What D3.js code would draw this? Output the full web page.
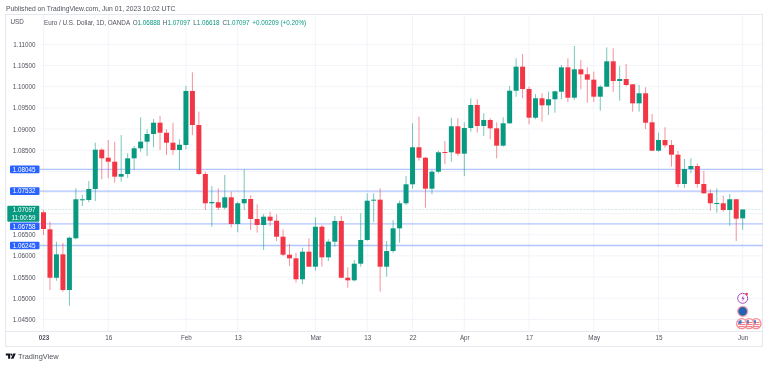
<!DOCTYPE html>
<html><head><meta charset="utf-8">
<script src="https://cdn.jsdelivr.net/npm/d3@7/dist/d3.min.js"></script>
<style>html,body{margin:0;padding:0;background:#fff}svg{display:block;filter:blur(.25px)}text{font-family:"Liberation Sans",Arial,sans-serif}</style>
</head><body><svg id="c" width="768" height="365"></svg>
<script>
const opens=[1.07031,1.06629,1.05484,1.06037,1.05194,1.06416,1.07322,1.07322,1.07582,1.08511,1.08321,1.08227,1.07873,1.07936,1.08307,1.08544,1.08700,1.08882,1.09149,1.08912,1.08676,1.08504,1.08622,1.09899,1.09095,1.07936,1.07244,1.07268,1.07140,1.07385,1.06754,1.07244,1.07345,1.06873,1.06731,1.06927,1.06832,1.06454,1.06028,1.05943,1.05447,1.06099,1.05745,1.06690,1.05966,1.06336,1.06826,1.05484,1.05423,1.05816,1.06376,1.07305,1.07329,1.05745,1.06115,1.06652,1.07244,1.07693,1.08568,1.08321,1.07589,1.07991,1.08456,1.08449,1.09064,1.08417,1.09024,1.09568,1.09071,1.09213,1.09016,1.08606,1.09135,1.09905,1.10473,1.09945,1.09267,1.09726,1.09560,1.09703,1.09882,1.10458,1.09740,1.10411,1.10293,1.10166,1.09764,1.10001,1.10600,1.10135,1.10182,1.10056,1.09607,1.09844,1.09158,1.08487,1.08740,1.08622,1.08393,1.07700,1.08054,1.08125,1.07700,1.07480,1.07235,1.07244,1.07085,1.07339,1.06888];
const highs=[1.07085,1.06809,1.06336,1.06305,1.06454,1.07598,1.07440,1.07770,1.08676,1.08544,1.08740,1.08700,1.08858,1.08426,1.08598,1.09277,1.08993,1.09237,1.09308,1.08993,1.09149,1.08757,1.10017,1.10340,1.09409,1.07991,1.07652,1.07598,1.07912,1.07518,1.07282,1.08047,1.07440,1.07220,1.06991,1.07045,1.06984,1.06629,1.06281,1.06075,1.06193,1.06416,1.06913,1.06731,1.06393,1.06944,1.06944,1.05730,1.05903,1.07007,1.07480,1.07480,1.07598,1.06352,1.06849,1.07305,1.07889,1.09135,1.09291,1.08340,1.08031,1.08487,1.08716,1.09267,1.09253,1.09158,1.09726,1.09703,1.09372,1.09253,1.09158,1.09277,1.10017,1.10671,1.10773,1.10001,1.09827,1.09844,1.09882,1.09905,1.10513,1.10671,1.10962,1.10631,1.10458,1.10355,1.10040,1.10931,1.10908,1.10489,1.10537,1.10064,1.10040,1.09986,1.09355,1.08912,1.09040,1.08740,1.08480,1.08291,1.08307,1.08189,1.08007,1.07575,1.07598,1.07423,1.07464,1.07345,1.07097];
const lows=[1.06494,1.05194,1.05413,1.05154,1.04822,1.06393,1.07180,1.07268,1.07298,1.07811,1.07841,1.07730,1.07754,1.07841,1.08031,1.08464,1.08362,1.08568,1.08504,1.08386,1.08386,1.08031,1.08520,1.08858,1.07912,1.07085,1.06690,1.07085,1.07102,1.06676,1.06558,1.07085,1.06612,1.06549,1.06139,1.06707,1.06352,1.05997,1.05761,1.05367,1.05336,1.05738,1.05650,1.05745,1.05879,1.06217,1.05470,1.05248,1.05399,1.05745,1.06359,1.06795,1.05154,1.05508,1.06075,1.06312,1.07203,1.07589,1.08250,1.07140,1.07456,1.07952,1.08173,1.08227,1.08362,1.07889,1.08936,1.08912,1.08835,1.08757,1.08307,1.08582,1.09118,1.09764,1.09726,1.09111,1.09230,1.09173,1.09331,1.09385,1.09703,1.09639,1.09686,1.09939,1.09622,1.09639,1.09433,1.09993,1.09875,1.09670,1.10017,1.09409,1.09409,1.09000,1.08480,1.08464,1.08558,1.08109,1.07622,1.07605,1.07952,1.07613,1.07464,1.07068,1.07021,1.07045,1.06714,1.06352,1.06618];
const closes=[1.06636,1.05484,1.06037,1.05194,1.06430,1.07339,1.07339,1.07582,1.08511,1.08307,1.08227,1.07873,1.07936,1.08307,1.08544,1.08700,1.08882,1.09149,1.08912,1.08676,1.08504,1.08629,1.09899,1.09095,1.07936,1.07244,1.07275,1.07140,1.07385,1.06754,1.07244,1.07345,1.06873,1.06731,1.06927,1.06832,1.06454,1.06028,1.05943,1.05447,1.06099,1.05745,1.06690,1.05966,1.06336,1.06826,1.05484,1.05423,1.05816,1.06376,1.07305,1.07329,1.05745,1.06115,1.06652,1.07244,1.07693,1.08568,1.08321,1.07589,1.07991,1.08449,1.08440,1.09064,1.08417,1.09024,1.09568,1.09071,1.09213,1.09016,1.08606,1.09135,1.09905,1.10473,1.09945,1.09267,1.09726,1.09560,1.09703,1.09891,1.10458,1.09740,1.10411,1.10293,1.10166,1.09764,1.10001,1.10600,1.10135,1.10182,1.10040,1.09607,1.09844,1.09149,1.08487,1.08740,1.08615,1.08393,1.07700,1.08054,1.08125,1.07700,1.07480,1.07244,1.07251,1.07085,1.07339,1.06880,1.07097];
const gridTicks=[1.11,1.105,1.10,1.095,1.09,1.085,1.08,1.075,1.07,1.065,1.06,1.055,1.05,1.045];
const priceTicks=[1.11,1.105,1.10,1.095,1.09,1.085,1.065,1.06,1.055,1.05,1.045];
const timeIndex=[0,10,22,30,42,50,57,65,75,85,95,108];
const timeLabels=["023","16","Feb","13","Mar","13","22","Apr","17","May","15","Jun"];
const levels=[1.08045,1.07532,1.06758,1.06245];
const lastClose=1.07097;
const countdown="11:00:59";
const legendParts=[["Euro / U.S. Dollar, 1D, OANDA","#50535e"],["O","#50535e"],["1.06888","#089981"],["H","#50535e"],["1.07097","#089981"],["L","#50535e"],["1.06618","#089981"],["C","#50535e"],["1.07097","#089981"],["+0.00209 (+0.20%)","#089981"]];
const legendX=[44,132.8,137.4,162.8,167.4,193.3,196.8,222.6,226.8,252.3];

const UP="#089981",DOWN="#F23645",BLUE="#2962FF",GRID="#f2f4f9",FRAME="#e0e3eb",TXT="#50535e";
const svg=d3.select("#c");
const x=d3.scaleLinear().domain([0,108]).range([43.5,742.7]);
const y=d3.scaleLinear().domain([1.11,1.045]).range([44.4,319.35]);
const fs=6.3;

// grid
svg.append("g").selectAll("line").data(gridTicks).join("line")
 .attr("x1",41).attr("x2",762).attr("y1",d=>y(d)).attr("y2",d=>y(d)).attr("stroke",GRID);
svg.append("g").selectAll("line").data(timeIndex).join("line")
 .attr("x1",d=>x(d)).attr("x2",d=>x(d)).attr("y1",15).attr("y2",331).attr("stroke",GRID);

// frame
svg.append("rect").attr("x",5.5).attr("y",14.5).attr("width",757).attr("height",332).attr("fill","none").attr("stroke",FRAME).attr("stroke-width",.8);
svg.append("line").attr("x1",5.5).attr("x2",762.5).attr("y1",331.5).attr("y2",331.5).attr("stroke",FRAME).attr("stroke-width",.8);

// axes
const ay=svg.append("g").attr("transform","translate(35.5,0)").call(d3.axisLeft(y).tickValues(priceTicks).tickFormat(d3.format(".5f")).tickSize(0).tickPadding(0));
ay.select(".domain").remove();
ay.selectAll("text").attr("fill",TXT).attr("font-size",fs).attr("font-family",'"Liberation Sans",Arial,sans-serif');
const ax=svg.append("g").attr("transform","translate(0,335.6)").call(d3.axisBottom(x).tickValues(timeIndex).tickFormat((d,i)=>timeLabels[i]).tickSize(0).tickPadding(0));
ax.select(".domain").remove();
ax.selectAll("text").attr("fill",TXT).attr("font-size",fs).attr("font-family",'"Liberation Sans",Arial,sans-serif').attr("font-weight",(d,i)=>i===0?"bold":"normal");

// level lines + current price
svg.append("g").selectAll("line").data(levels).join("line")
 .attr("x1",40).attr("x2",762.5).attr("y1",d=>y(d)).attr("y2",d=>y(d)).attr("stroke",BLUE).attr("stroke-opacity",.36).attr("stroke-width",1.4);
svg.append("line").attr("x1",41).attr("x2",762).attr("y1",y(lastClose)).attr("y2",y(lastClose)).attr("stroke",UP).attr("stroke-opacity",.2).attr("stroke-width",1).attr("stroke-dasharray","2 1.5");

// candles
const idx=d3.range(opens.length);
const col=i=>closes[i]>=opens[i]?UP:DOWN;
svg.append("g").selectAll("line").data(idx).join("line")
 .attr("x1",i=>x(i)).attr("x2",i=>x(i)).attr("y1",i=>y(highs[i])).attr("y2",i=>y(lows[i])).attr("stroke",col).attr("stroke-width",1).attr("stroke-opacity",.55);
svg.append("g").selectAll("rect").data(idx).join("rect")
 .attr("x",i=>x(i)-2.5).attr("width",5)
 .attr("y",i=>Math.min(y(opens[i]),y(closes[i])))
 .attr("height",i=>Math.max(1,Math.abs(y(opens[i])-y(closes[i]))))
 .attr("fill",col);

// price labels
const lab=svg.append("g");
levels.forEach(v=>{
  const cy=v===1.06758?226.3:y(v);
  lab.append("rect").attr("x",10).attr("y",cy-3.8).attr("width",29.5).attr("height",7.6).attr("rx",1).attr("fill",BLUE);
  lab.append("text").attr("x",35.5).attr("y",cy).attr("dy","0.35em").attr("text-anchor","end").attr("font-size",fs).attr("fill","#fff").text(d3.format(".5f")(v));
});
lab.append("rect").attr("x",7.3).attr("y",205.7).attr("width",32).attr("height",16).attr("rx",1).attr("fill",UP);
lab.append("text").attr("x",35.5).attr("y",y(lastClose)+.5).attr("dy","0.35em").attr("text-anchor","end").attr("font-size",fs).attr("fill","#fff").text(d3.format(".5f")(lastClose));
lab.append("text").attr("x",35.5).attr("y",217.6).attr("dy","0.35em").attr("text-anchor","end").attr("font-size",fs).attr("fill","#fff").text(countdown);

// header
svg.append("text").attr("x",6).attr("y",11).attr("font-size",6.75).attr("fill",TXT).text("Published on TradingView.com, Jun 01, 2023 10:02 UTC");
svg.append("text").attr("x",10.5).attr("y",23.5).attr("font-size",6.3).attr("fill",TXT).text("USD");
svg.append("g").selectAll("text").data(legendParts).join("text")
 .attr("x",(d,i)=>legendX[i]).attr("y",25.3).attr("font-size",6.3).attr("fill",d=>d[1]).text(d=>d[0]);

// footer logo
const logo=svg.append("g").attr("fill","#131722");
logo.append("path").attr("d","M5.8 353.5h4.4v5.2h-2.1v-3.1h-2.3z");
logo.append("circle").attr("cx",11.4).attr("cy",354.6).attr("r",1.05);
logo.append("path").attr("d","M13.2 353.5h2.6l-2.3 5.2h-2.6z");
svg.append("text").attr("x",18).attr("y",358.6).attr("font-size",7.4).attr("fill",TXT).text("TradingView");

// event icons
const ic=svg.append("g");
ic.append("circle").attr("cx",742.7).attr("cy",298.3).attr("r",5).attr("fill","#fff").attr("stroke","#ab47bc").attr("stroke-width",1);
ic.append("path").attr("d","M743.6 295l-2.3 3.8h1.7l-.8 2.9 2.5-4h-1.7z").attr("fill","#ab47bc");
ic.append("circle").attr("cx",746.7).attr("cy",294).attr("r",1.2).attr("fill",DOWN);
ic.append("circle").attr("cx",742.7).attr("cy",311.3).attr("r",5).attr("fill","#2463b4").attr("stroke","#f7a1a8").attr("stroke-width",1.3);
[756,749,741.7].forEach(cx=>{
  ic.append("circle").attr("cx",cx).attr("cy",323.7).attr("r",5).attr("fill","#fff").attr("stroke","#f58a93").attr("stroke-width",1.3);
  ic.append("path").attr("d",`M${cx-3.6} 322.4h7.2M${cx-3.6} 324.6h7.2M${cx-3} 326.6h6`).attr("stroke","#f0717c").attr("stroke-width",1);
  ic.append("path").attr("d",`M${cx-3.6} 323.7a3.6 3.6 0 0 1 3.4-3.6v3.6z`).attr("fill","#3d79c9");
});
</script></body></html>
